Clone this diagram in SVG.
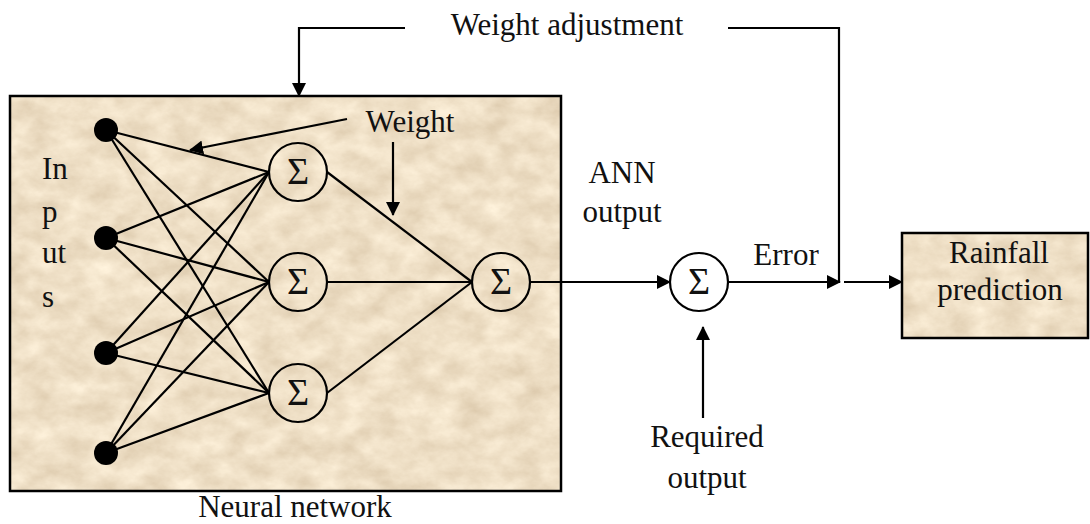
<svg xmlns="http://www.w3.org/2000/svg" width="1090" height="524" viewBox="0 0 1090 524">
  <defs>
    <!-- parchment-like texture for the two panels -->
    <filter id="paper" x="0" y="0" width="1" height="1" color-interpolation-filters="sRGB">
      <feTurbulence type="fractalNoise" baseFrequency="0.035 0.05" numOctaves="5" seed="7" result="noise"/>
      <feColorMatrix in="noise" type="matrix" values="0.16 0 0 0 0.855  0.19 0 0 0 0.78  0.22 0 0 0 0.665  0 0 0 0 1" result="tone"/>
      <feComposite in="tone" in2="SourceGraphic" operator="in"/>
    </filter>
    <marker id="arrow" viewBox="0 0 14 14" markerWidth="14" markerHeight="14" refX="13" refY="7" orient="auto" markerUnits="userSpaceOnUse">
      <path d="M0,0 L14,7 L0,14 z" fill="#000"/>
    </marker>
    <style>
      text { font-family: "Liberation Serif", "Times New Roman", serif; font-size: 31px; fill: #111; }
      .mid { text-anchor: middle; }
      .sigma { font-size: 38px; text-anchor: middle; }
      .edge { stroke: #000; stroke-width: 2.2; fill: none; }
      .arrowed { marker-end: url(#arrow); }
      .panel { stroke: #000; stroke-width: 2.5; fill: none; }
      .sum { stroke: #000; stroke-width: 2.2; fill: none; }
      .sum-open { stroke: #000; stroke-width: 2.2; fill: #fff; }
      .dot { fill: #000; }
    </style>
  </defs>

  <rect width="1090" height="524" fill="#fff"/>

  <!-- neural network panel -->
  <g id="neural-network">
    <rect x="10" y="96" width="551" height="395" fill="#000" filter="url(#paper)"/>
    <rect class="panel" x="10" y="96" width="551" height="395"/>
    <text class="mid" x="295" y="517">Neural network</text>
    <text x="42" y="179">In</text>
    <text x="42" y="222">p</text>
    <text x="42" y="263">ut</text>
    <text x="42" y="307">s</text>
    <text class="mid" x="410" y="132">Weight</text>
  </g>

  <!-- rainfall prediction panel -->
  <g id="rainfall-prediction">
    <rect x="902" y="233" width="186" height="105" fill="#000" filter="url(#paper)"/>
    <rect class="panel" x="902" y="233" width="186" height="105"/>
    <text class="mid" x="999" y="263">Rainfall</text>
    <text class="mid" x="1000" y="300">prediction</text>
  </g>

  <!-- connectors -->
  <g id="connectors">
    <!-- input layer to hidden layer -->
    <g class="edge">
      <line x1="106" y1="130" x2="269" y2="172"/>
      <line x1="106" y1="130" x2="269" y2="282"/>
      <line x1="106" y1="130" x2="269" y2="393"/>
      <line x1="106" y1="238" x2="269" y2="172"/>
      <line x1="106" y1="238" x2="269" y2="282"/>
      <line x1="106" y1="238" x2="269" y2="393"/>
      <line x1="106" y1="353" x2="269" y2="172"/>
      <line x1="106" y1="353" x2="269" y2="282"/>
      <line x1="106" y1="353" x2="269" y2="393"/>
      <line x1="106" y1="453" x2="269" y2="172"/>
      <line x1="106" y1="453" x2="269" y2="282"/>
      <line x1="106" y1="453" x2="269" y2="393"/>
      <!-- hidden layer to output neuron -->
      <line x1="327" y1="172" x2="472" y2="282"/>
      <line x1="327" y1="282" x2="472" y2="282"/>
      <line x1="327" y1="393" x2="472" y2="282"/>
    </g>
    <!-- weight pointers -->
    <line class="edge arrowed" x1="347" y1="119" x2="190" y2="150"/>
    <line class="edge arrowed" x1="393" y1="142" x2="393" y2="215"/>
    <!-- ANN output to error summation -->
    <line class="edge arrowed" x1="530" y1="282" x2="670" y2="282"/>
    <!-- required output -->
    <line class="edge arrowed" x1="703" y1="418" x2="703" y2="327"/>
    <!-- error -->
    <line class="edge arrowed" x1="728" y1="282" x2="840" y2="282"/>
    <line class="edge arrowed" x1="844" y1="282" x2="902" y2="282"/>
    <!-- weight adjustment feedback loop -->
    <polyline class="edge" points="839,282 839,28 728,28"/>
    <polyline class="edge arrowed" points="405,28 299,28 299,96"/>
  </g>

  <!-- input nodes -->
  <g id="input-1"><circle class="dot" cx="106" cy="130" r="12"/></g>
  <g id="input-2"><circle class="dot" cx="106" cy="238" r="12"/></g>
  <g id="input-3"><circle class="dot" cx="106" cy="353" r="12"/></g>
  <g id="input-4"><circle class="dot" cx="106" cy="453" r="12"/></g>

  <!-- hidden neurons -->
  <g id="hidden-1">
    <circle class="sum" cx="298" cy="172" r="29"/>
    <text class="sigma" x="298" y="184">Σ</text>
  </g>
  <g id="hidden-2">
    <circle class="sum" cx="298" cy="282" r="29"/>
    <text class="sigma" x="298" y="294">Σ</text>
  </g>
  <g id="hidden-3">
    <circle class="sum" cx="298" cy="393" r="29"/>
    <text class="sigma" x="298" y="405">Σ</text>
  </g>

  <!-- output neuron -->
  <g id="output-neuron">
    <circle class="sum" cx="501" cy="282" r="29"/>
    <text class="sigma" x="501" y="294">Σ</text>
  </g>

  <!-- error summation -->
  <g id="error-sum">
    <circle class="sum-open" cx="699" cy="282" r="29"/>
    <text class="sigma" x="699" y="294">Σ</text>
  </g>

  <!-- free labels -->
  <g id="labels">
    <text class="mid" x="567" y="35">Weight adjustment</text>
    <text class="mid" x="622" y="183">ANN</text>
    <text class="mid" x="622" y="222">output</text>
    <text class="mid" x="786" y="265">Error</text>
    <text class="mid" x="707" y="447">Required</text>
    <text class="mid" x="707" y="488">output</text>
  </g>
</svg>
